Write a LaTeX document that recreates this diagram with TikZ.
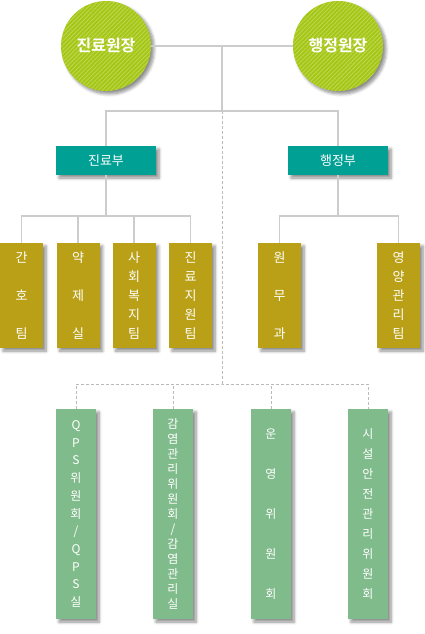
\documentclass[tikz,border=0pt]{standalone}
\usepackage{fontspec}
\setmainfont{Noto Sans CJK KR}[BoldFont={Noto Sans CJK KR Bold}]
\usetikzlibrary{shadows.blur,patterns.meta,calc}
\definecolor{circbase}{HTML}{A5C618}
\definecolor{circstripe}{HTML}{BCD84A}
\definecolor{tealbox}{HTML}{00A094}
\definecolor{goldbox}{HTML}{B9A016}
\definecolor{greenbox}{HTML}{80BB8B}
\definecolor{linegray}{HTML}{CCCCCC}
\definecolor{dashgray}{HTML}{BBBBBB}
\tikzset{
  shade/.style={blur shadow={shadow xshift=3pt,shadow yshift=-3pt,shadow blur steps=6,shadow opacity=45,shadow blur radius=3pt}},
  circ/.style={circle,minimum size=90pt,inner sep=0pt,fill=circbase,shade,
    postaction={pattern={Lines[angle=45,distance=3pt,line width=0.9pt]},pattern color=circstripe},
    text=white,font=\fontsize{16}{18}\selectfont\bfseries},
  deptbox/.style={rectangle,minimum width=100pt,minimum height=29pt,inner sep=0pt,fill=tealbox,shade,
    text=white,font=\fontsize{13}{15}\selectfont},
  teambox/.style={rectangle,minimum width=43pt,minimum height=105pt,inner sep=0pt,fill=goldbox,shade,
    text=white,align=center},
  combox/.style={rectangle,minimum width=40pt,minimum height=210pt,inner sep=0pt,fill=greenbox,shade,
    text=white,align=center},
  conn/.style={draw=linegray,line width=1.2pt},
  dconn/.style={draw=dashgray,line width=1pt,dash pattern=on 3pt off 2pt}
}
\begin{document}
\begin{tikzpicture}[x=1pt,y=-1pt]
\useasboundingbox (0,0) rectangle (424,634);
\coordinate (j0) at (222,46);
\coordinate (j1) at (222,111);
\coordinate (k1) at (106,216);
\coordinate (k2) at (338,216);
\coordinate (m) at (222,384);

\node[circ] (c1) at (106,46) {진료원장};
\node[circ] (c2) at (338,46) {행정원장};

\node[deptbox] (d1) at (106,160.5) {진료부};
\node[deptbox] (d2) at (338,160.5) {행정부};

\node[teambox,font=\fontsize{13}{38}\selectfont] (g1) at (21.5,295.5) {간\\호\\팀};
\node[teambox,font=\fontsize{13}{38}\selectfont] (g2) at (78,295.5) {약\\제\\실};
\node[teambox,font=\fontsize{13}{19}\selectfont] (g3) at (134,295.5) {사\\회\\복\\지\\팀};
\node[teambox,font=\fontsize{13}{19}\selectfont] (g4) at (190.5,295.5) {진\\료\\지\\원\\팀};
\node[teambox,font=\fontsize{13}{38}\selectfont] (g5) at (279.5,295.5) {원\\무\\과};
\node[teambox,font=\fontsize{13}{19}\selectfont] (g6) at (398.5,295.5) {영\\양\\관\\리\\팀};

\node[combox,font=\fontsize{12}{17.7}\selectfont] (q1) at (76,514) {Q\\P\\S\\위\\원\\회\\/\\Q\\P\\S\\실};
\node[combox,font=\fontsize{12}{15}\selectfont] (q2) at (173,514) {감\\염\\관\\리\\위\\원\\회\\/\\감\\염\\관\\리\\실};
\node[combox,font=\fontsize{12}{40}\selectfont] (q3) at (271,514) {운\\영\\위\\원\\회};
\node[combox,font=\fontsize{12}{20}\selectfont] (q4) at (368,514) {시\\설\\안\\전\\관\\리\\위\\원\\회};

\path[conn] (c1) -- (c2);
\path[conn] (j0) -- (j1);
\path[conn] (d1.north) |- (j1) -| (d2.north);
\path[conn] (d1) -- (k1);
\path[conn] (d2) -- (k2);
\path[conn] (g1.north) |- (k1) -| (g4.north);
\path[conn] (g2.north) -- (g2.north |- k1);
\path[conn] (g3.north) -- (g3.north |- k1);
\path[conn] (g5.north) |- (k2) -| (g6.north);
\path[dconn] (j1) -- (m);
\path[dconn] (q1.north) |- (m) -| (q4.north);
\path[dconn] (q2.north) -- (q2.north |- m);
\path[dconn] (q3.north) -- (q3.north |- m);
\end{tikzpicture}
\end{document}
